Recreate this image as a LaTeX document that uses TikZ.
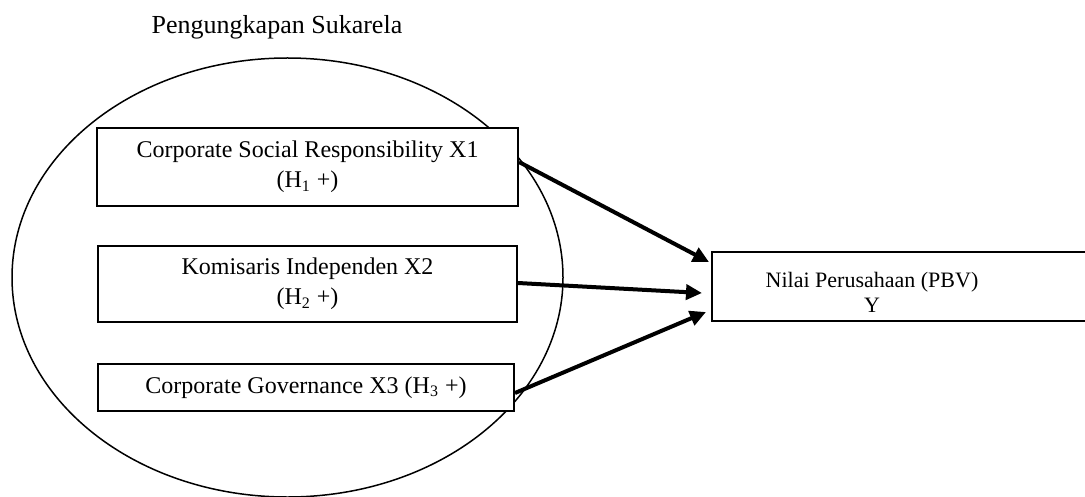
\documentclass[tikz,border=0pt]{standalone}
\usepackage{fontspec}
\setmainfont{Liberation Serif}
\usepackage{tikz}
\usetikzlibrary{arrows.meta}

\begin{document}
\begin{tikzpicture}[
        x=0.5pt,y=-0.5pt,
        font=\fontsize{12}{15}\selectfont,
        varbox/.style={draw,line width=1pt,fill=white,align=center,inner sep=0pt},
        effect/.style={line width=2pt,-{Triangle[length=8pt,width=7.5pt]}}
    ]

    \clip (0,0) rectangle (1085,497);

    \draw[line width=0.75pt] (287.5,277.5) ellipse [x radius=137.75pt,y radius=109.75pt];
    \node[font=\fontsize{13}{15}\selectfont] (title) at (277,27) {Pengungkapan Sukarela};

    \node[varbox,minimum width=210.5pt,minimum height=39pt] (csr) at (307.5,167) {Corporate Social Responsibility X1\\(H\textsubscript{1} +)};
    \node[varbox,minimum width=209.5pt,minimum height=38pt] (komisaris) at (307.5,284) {Komisaris Independen X2\\(H\textsubscript{2} +)};
    \node[varbox,minimum width=208pt,minimum height=23.5pt] (governance) at (306,387.5) {Corporate Governance X3 (H\textsubscript{3} +)};

    \node[varbox,minimum width=191.5pt,minimum height=34.5pt] (nilai) at (903.5,286.5) {};
    \node[align=center,font=\fontsize{11}{12.5}\selectfont] (nilaitext) at (872,292) {Nilai Perusahaan (PBV)\\Y};

    \draw[effect] ([yshift=2.5pt]csr.east) -- ([xshift=-1pt,yshift=12.25pt]nilai.west);
    \draw[effect] ([yshift=0.5pt]komisaris.east) -- ([xshift=-4.5pt,yshift=-3.25pt]nilai.west);
    \draw[effect] ([yshift=-2.75pt]governance.east) -- ([xshift=-2.5pt,yshift=-12.75pt]nilai.west);

    \end{tikzpicture}
\end{document}
